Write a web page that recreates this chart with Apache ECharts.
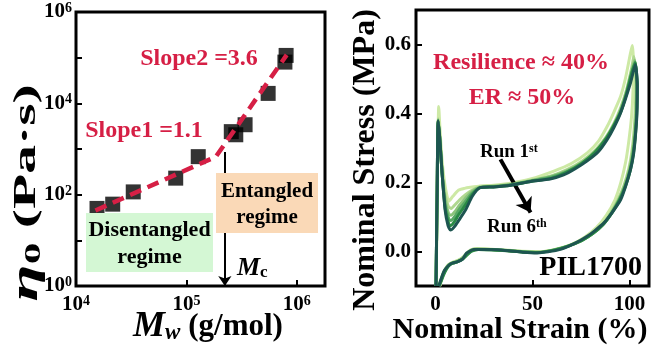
<!DOCTYPE html>
<html><head><meta charset="utf-8">
<script src="https://cdn.jsdelivr.net/npm/echarts@6/dist/echarts.min.js"></script>
<style>html,body{margin:0;padding:0;background:#fff}#c{width:654px;height:347px}</style>
</head><body><div id="c"></div>
<script>
// ---------- Left panel data ----------
const mwValues   = [1.55e4, 2.15e4, 3.3e4, 8.0e4, 1.28e5, 2.55e5, 2.8e5, 3.4e5, 5.5e5, 7.8e5, 8.0e5];
const eta0Values = [50, 62, 115, 230, 680, 2400, 2050, 3400, 16500, 80000, 112000];
const fitMw   = [1.5e4, 1.85e5, 8.1e5];
const fitEta0 = [45, 680, 1.15e5];
const mcMw = 2.23e5;
const mcEtaRange = [860, 1];
const etaLabelExps = [0, 2, 4, 6];
const mwLabelExps = [4, 5, 6];

// ---------- Right panel data ----------
const run1Strain = [0.4,1.0,1.7,2.5,3.5,5.0,6.9,9.0,12,15,18,23,30,38.7,49,61,70,78.2,84,88.5,92,95.4,98,100.5,101.4,
  102,101.8,101,99.6,98,95.5,92.5,88,83,77,70,62,54,45,35,25,20,17,14,11.5,8.5,6.5,4.8,3.4,2.4];
const run1Stress = [-0.1,0.2,0.42,0.34,0.26,0.19,0.146,0.16,0.178,0.183,0.186,0.19,0.192,0.198,0.21,0.233,0.255,0.286,0.32,0.363,0.405,0.45,0.505,0.576,0.597,
  0.55,0.47,0.39,0.32,0.26,0.2,0.15,0.105,0.07,0.042,0.02,0.006,0,0.001,0.004,0.008,0.008,-0.002,-0.018,-0.026,-0.032,-0.04,-0.055,-0.075,-0.1];
const run2Strain = [0.35,0.95,1.5,2.3,3.4,5.0,6.7,8.2,10,12.5,15.5,19,23,30,38.7,49,60,68,76,83,88,92,95.5,98.5,101,102.2,
  103.2,103,102.3,101.2,99.6,97,94,90,85.5,80,74,67,60,52,44,36,28,21,18,16,13.5,11,8.6,6.8,5.2,3.8,2.9,2.1];
const run2Stress = [-0.1,0.19,0.385,0.33,0.24,0.165,0.13,0.125,0.135,0.15,0.165,0.178,0.187,0.19,0.195,0.206,0.22,0.238,0.264,0.298,0.333,0.372,0.418,0.47,0.53,0.565,
  0.5,0.42,0.35,0.29,0.24,0.19,0.15,0.11,0.075,0.05,0.03,0.014,0.004,-0.002,0.0,0.003,0.006,0.007,0.004,-0.006,-0.02,-0.028,-0.032,-0.038,-0.05,-0.066,-0.08,-0.1];
const run3Strain = [0.32,0.92,1.45,2.25,3.4,5.0,6.8,8.0,10,12.5,15.5,19,23,30,38.7,49,60,68,76,83,88,92,95.5,98.5,101,102.6,
  103.6,103.4,102.7,101.6,100,97.4,94.4,90.4,86,80.5,74.5,67.5,60.5,52.5,44.5,36.5,28.5,21.5,18.2,16.2,13.7,11.1,8.8,6.9,5.3,3.9,3.0,2.0];
const run3Stress = [-0.1,0.185,0.382,0.33,0.23,0.15,0.11,0.105,0.115,0.135,0.155,0.175,0.186,0.189,0.194,0.205,0.218,0.235,0.26,0.294,0.33,0.368,0.413,0.465,0.522,0.555,
  0.49,0.41,0.345,0.287,0.238,0.19,0.15,0.11,0.076,0.05,0.03,0.014,0.004,-0.002,0.0,0.003,0.006,0.007,0.003,-0.007,-0.021,-0.029,-0.033,-0.039,-0.051,-0.067,-0.082,-0.1];
const run4Strain = [0.3,0.9,1.42,2.22,3.4,5.0,6.9,7.9,9.8,12.3,15.5,19,23,30,38.7,49,60,68,76,83,88,92,95.5,98.5,101,102.8,
  103.8,103.6,102.9,101.8,100.2,97.7,94.7,90.7,86.4,81,75,68,61,53,45,37,29,22,18.5,16.4,13.9,11.2,8.9,7.0,5.4,4.0,3.0,1.9];
const run4Stress = [-0.1,0.183,0.38,0.33,0.23,0.135,0.095,0.09,0.1,0.122,0.145,0.17,0.185,0.188,0.193,0.204,0.216,0.232,0.258,0.29,0.327,0.365,0.408,0.46,0.517,0.55,
  0.485,0.405,0.34,0.284,0.237,0.19,0.15,0.111,0.078,0.052,0.031,0.015,0.004,-0.003,-0.001,0.003,0.005,0.006,0.002,-0.008,-0.022,-0.03,-0.034,-0.04,-0.052,-0.068,-0.083,-0.1];
const run5Strain = [0.3,0.9,1.4,2.2,3.4,5.0,6.9,7.8,9.6,12.1,15.5,19,23,30,38.7,49,59.5,67,75,82,87.5,91.5,95.4,98.3,100.8,102.9,
  103.9,103.7,103,101.9,100.4,97.9,94.9,90.9,86.6,81.5,75.5,68,61,53,45,37,29,22,18.7,16.5,14,11.2,9,7.0,5.5,4.1,3.1,1.85];
const run5Stress = [-0.1,0.18,0.378,0.33,0.23,0.125,0.08,0.075,0.085,0.108,0.135,0.165,0.185,0.187,0.192,0.203,0.212,0.228,0.254,0.287,0.324,0.362,0.404,0.455,0.51,0.547,
  0.482,0.402,0.337,0.282,0.236,0.19,0.15,0.112,0.08,0.054,0.032,0.015,0.004,-0.003,-0.002,0.002,0.005,0.006,0.001,-0.009,-0.022,-0.03,-0.034,-0.04,-0.053,-0.069,-0.084,-0.1];
const run6Strain = [0.3,0.9,1.4,2.2,3.4,5.0,6.5,7.8,9.5,12,15.5,19,23,30,38.7,49,59,66,72,78,84,88.5,92,95.4,100.5,103,
  104,103.8,103,102,100.5,98,95.4,91,86.8,82,78.2,72,64.4,58,52.4,45,38,31.8,25,19.7,16,14,11.2,9,7.7,5.8,4.3,2.6,1.8];
const run6Stress = [-0.1,0.18,0.378,0.33,0.23,0.12,0.075,0.062,0.07,0.09,0.12,0.16,0.185,0.187,0.192,0.203,0.21,0.222,0.24,0.262,0.29,0.325,0.36,0.402,0.489,0.542,
  0.48,0.40,0.334,0.28,0.238,0.19,0.15,0.113,0.083,0.06,0.044,0.024,0.006,-0.001,-0.004,-0.002,0.002,0.005,0.006,0.006,-0.005,-0.022,-0.03,-0.033,-0.036,-0.046,-0.058,-0.085,-0.1];
const runStrains = [run1Strain, run2Strain, run3Strain, run4Strain, run5Strain, run6Strain];
const runStresses = [run1Stress, run2Stress, run3Stress, run4Stress, run5Stress, run6Stress];
const runArrowStart = [33.5, 0.267];
const runArrowEnd = [49, 0.113];
const strainLabels = [0, 50, 100];
const stressLabels = [0, 0.2, 0.4, 0.6];

// ---------- styles ----------
const FF = '"Liberation Serif", "Times New Roman", serif';
const RED = '#d61f45';
const runColors = ['#cde9a5', '#b0d890', '#8cc47c', '#58a865', '#2a8a45', '#1d5550'];
const zip = (a, b) => a.map((v, i) => [v, b[i]]);

const powLabel = (exps) => (v) => {
  const lg = Math.log10(v), e = Math.round(lg);
  if (Math.abs(lg - e) > 1e-6 || exps.indexOf(e) < 0) return '';
  return '{b|10}{s|' + e + '}';
};
const powRich = {
  b: {fontFamily: FF, fontWeight: 'bold', fontSize: 21, color: '#000'},
  s: {fontFamily: FF, fontWeight: 'bold', fontSize: 14, color: '#000', verticalAlign: 'top'}
};
const tickStyle = {show: true, inside: true, length: 6, lineStyle: {color: '#000', width: 2}};
const noLine = {show: false, onZero: false};

const series = [
  {type: 'scatter', xAxisIndex: 0, yAxisIndex: 0, data: zip(mwValues, eta0Values),
   symbol: 'rect', symbolSize: 15, itemStyle: {color: '#000'}, z: 3,
   markLine: {silent: true, symbol: ['none', 'arrow'], symbolSize: 10, label: {show: false},
     lineStyle: {color: '#000', width: 2, type: 'solid'},
     data: [[{coord: [mcMw, mcEtaRange[0]]}, {coord: [mcMw, mcEtaRange[1]]}]]}},
  {type: 'line', xAxisIndex: 0, yAxisIndex: 0, data: zip(fitMw, fitEta0), symbol: 'none', z: 4,
   lineStyle: {color: RED, width: 4.5, type: [12, 7]}}
];
runStrains.forEach((s, i) => {
  const sObj = {type: 'line', xAxisIndex: 1, yAxisIndex: 1, data: zip(s, runStresses[i]),
    symbol: 'none', smooth: 0.2, clip: true, z: 3 + i,
    lineStyle: {color: runColors[i], width: 3}};
  if (i === runStrains.length - 1) {
    sObj.markLine = {silent: true, symbol: ['none', 'arrow'], symbolSize: 14, label: {show: false},
      lineStyle: {color: '#000', width: 4, type: 'solid'},
      data: [[{coord: runArrowStart}, {coord: runArrowEnd}]]};
  }
  series.push(sObj);
});

const txt = (x, y, text, font, extra) => Object.assign({type: 'text', x: x, y: y, z: 50,
  style: Object.assign({text: text, font: font, fill: '#000', textAlign: 'center', textVerticalAlign: 'middle'}, extra || {})});

const option = {
  animation: false,
  backgroundColor: '#fff',
  grid: [
    {left: 76, top: 12, width: 249, height: 274, show: true, borderColor: '#000', borderWidth: 3, backgroundColor: 'transparent'},
    {left: 416, top: 10, width: 233, height: 276, show: true, borderColor: '#000', borderWidth: 3, backgroundColor: 'transparent'}
  ],
  xAxis: [
    {type: 'log', gridIndex: 0, min: 1e4, max: 1.8e6, logBase: 10,
     axisLine: noLine, axisTick: tickStyle, splitLine: {show: false},
     axisLabel: {formatter: powLabel(mwLabelExps), rich: powRich, margin: 8}},
    {type: 'value', gridIndex: 1, min: -10, max: 110, splitNumber: 2,
     axisLine: noLine, axisTick: tickStyle, splitLine: {show: false},
     axisLabel: {formatter: (v) => strainLabels.indexOf(v) >= 0 ? String(v) : '', margin: 8,
       showMinLabel: false, showMaxLabel: false,
       fontFamily: FF, fontWeight: 'bold', fontSize: 21, color: '#000'}}
  ],
  yAxis: [
    {type: 'log', gridIndex: 0, min: 1, max: 1e6, logBase: 10,
     axisLine: noLine, axisTick: tickStyle, splitLine: {show: false},
     axisLabel: {formatter: powLabel(etaLabelExps), rich: powRich, margin: 4}},
    {type: 'value', gridIndex: 1, min: -0.1, max: 0.7, splitNumber: 4,
     axisLine: noLine, axisTick: tickStyle, splitLine: {show: false},
     axisLabel: {formatter: (v) => stressLabels.some(t => Math.abs(t - v) < 1e-9) ? v.toFixed(1) : '', margin: 5,
       showMinLabel: false, showMaxLabel: false,
       fontFamily: FF, fontWeight: 'bold', fontSize: 21, color: '#000'}}
  ],
  series: series,
  graphic: [
    {type: 'rect', z: 40, shape: {x: 86, y: 213, width: 127, height: 59}, style: {fill: '#d4f7d4'}},
    {type: 'rect', z: 40, shape: {x: 216, y: 173, width: 102, height: 60}, style: {fill: '#fad9b7'}},
    txt(149.5, 230, 'Disentangled', 'bold 22px ' + FF),
    txt(149.5, 257, 'regime', 'bold 22px ' + FF),
    txt(267, 192, 'Entangled', 'bold 21px ' + FF),
    txt(267, 218, 'regime', 'bold 21px ' + FF),
    txt(199, 59, 'Slope2 =3.6', 'bold 24px ' + FF, {fill: RED}),
    txt(144, 131, 'Slope1 =1.1', 'bold 24px ' + FF, {fill: RED}),
    txt(237, 268, '{m|M}{c|c}', '', {textAlign: 'left', rich: {
      m: {fontFamily: FF, fontWeight: 'bold', fontStyle: 'italic', fontSize: 26, fill: '#000'},
      c: {fontFamily: FF, fontWeight: 'bold', fontSize: 17, fill: '#000', verticalAlign: 'bottom'}}}),
    txt(208, 327, '{m|M}{w|w}{t| (g/mol)}', '', {rich: {
      m: {fontFamily: FF, fontWeight: 'bold', fontStyle: 'italic', fontSize: 36, fill: '#000'},
      w: {fontFamily: FF, fontWeight: 'bold', fontStyle: 'italic', fontSize: 23, fill: '#000', verticalAlign: 'bottom'},
      t: {fontFamily: FF, fontWeight: 'bold', fontSize: 31, fill: '#000'}}}),
    Object.assign(txt(27, 193, '{e|η}{z|0}{t| (Pa·s)}', '', {rich: {
      e: {fontFamily: FF, fontWeight: 'bold', fontStyle: 'italic', fontSize: 38, fill: '#000'},
      z: {fontFamily: FF, fontWeight: 'bold', fontSize: 24, fill: '#000', verticalAlign: 'bottom'},
      t: {fontFamily: FF, fontWeight: 'bold', fontSize: 32, fill: '#000'}}}), {rotation: Math.PI / 2, scaleX: 1.8}),
    Object.assign(txt(366, 160, 'Nominal Stress (MPa)', 'bold 32px ' + FF), {rotation: Math.PI / 2}),
    txt(520, 330, 'Nominal Strain (%)', 'bold 30px ' + FF),
    txt(521, 63, 'Resilience ≈ 40%', 'bold 24px ' + FF, {fill: RED}),
    txt(522, 98, 'ER ≈ 50%', 'bold 24px ' + FF, {fill: RED}),
    txt(480, 152, '{r|Run 1}{s|st}', '', {textAlign: 'left', rich: {
      r: {fontFamily: FF, fontWeight: 'bold', fontSize: 19, fill: '#000'},
      s: {fontFamily: FF, fontWeight: 'bold', fontSize: 12, fill: '#000', verticalAlign: 'top'}}}),
    txt(487, 227, '{r|Run 6}{s|th}', '', {textAlign: 'left', rich: {
      r: {fontFamily: FF, fontWeight: 'bold', fontSize: 19, fill: '#000'},
      s: {fontFamily: FF, fontWeight: 'bold', fontSize: 12, fill: '#000', verticalAlign: 'top'}}}),
    txt(642, 268, 'PIL1700', 'bold 28px ' + FF, {textAlign: 'right'})
  ]
};
const chart = echarts.init(document.getElementById('c'), null, {renderer: 'canvas'});
chart.setOption(option);
</script></body></html>
